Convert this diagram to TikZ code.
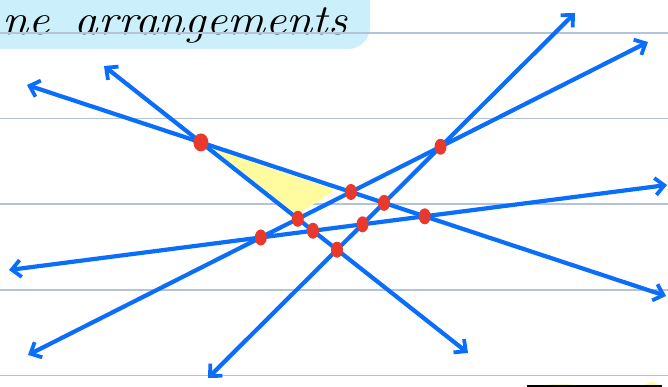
\documentclass[tikz,border=0pt]{standalone}
\usetikzlibrary{arrows.meta,shapes.geometric,calc}
\definecolor{lineblue}{HTML}{0A6EFA}
\definecolor{dotred}{HTML}{E8392C}
\definecolor{ruleblue}{HTML}{B4C3DA}
\definecolor{titlebg}{HTML}{CBEFFB}
\definecolor{hiyellow}{HTML}{FFFB9E}
\tikzset{
  ruled/.style={ruleblue, line width=1.4pt},
  arrline/.style={lineblue, line width=4.2pt, line cap=round, line join=round,
    {Straight Barb[length=9pt,width=17pt,line width=3.8pt]}-{Straight Barb[length=9pt,width=17pt,line width=3.8pt]}},
  dot/.style={ellipse, fill=dotred, minimum width=12pt, minimum height=16pt, inner sep=0pt},
  bigdot/.style={dot, minimum width=15pt, minimum height=18pt},
  title/.style={anchor=base west, inner sep=0pt, font=\fontsize{43}{46}\selectfont\itshape},
}
\begin{document}
\begin{tikzpicture}[x=1pt,y=-1pt]
\useasboundingbox (0,0) rectangle (668,387);
\clip (0,0) rectangle (668,387);
% title highlight
\fill[titlebg, rounded corners=22pt] (-40,-40) rectangle (370,49);
\node[title] (ttl) at (2,35) {\scalebox{1.1}[1]{ne\hspace{8pt} arrangements}};
% ruled lines
\foreach \yy in {33,118.5,204,290,375.5} \draw[ruled] (0,\yy) -- (668,\yy);
% endpoints
\coordinate (a1) at (27,85);   \coordinate (a2) at (666,296);
\coordinate (b1) at (104,66);  \coordinate (b2) at (468,353);
\coordinate (c1) at (28,355);  \coordinate (c2) at (648,42);
\coordinate (d1) at (208,378); \coordinate (d2) at (575,13);
\coordinate (e1) at (9,270);   \coordinate (e2) at (667,185);
% intersections
\coordinate (pAB) at (intersection of a1--a2 and b1--b2);
\coordinate (pAC) at (intersection of a1--a2 and c1--c2);
\coordinate (pAD) at (intersection of a1--a2 and d1--d2);
\coordinate (pAE) at (intersection of a1--a2 and e1--e2);
\coordinate (pBC) at (intersection of b1--b2 and c1--c2);
\coordinate (pBD) at (intersection of b1--b2 and d1--d2);
\coordinate (pBE) at (intersection of b1--b2 and e1--e2);
\coordinate (pCD) at (intersection of c1--c2 and d1--d2);
\coordinate (pCE) at (intersection of c1--c2 and e1--e2);
\coordinate (pDE) at (intersection of d1--d2 and e1--e2);
% yellow triangle
\coordinate (cen) at ($1/3*(pAB)+1/3*(pAC)+1/3*(pBC)$);
\fill[hiyellow, rounded corners=6pt]
  ($(pAB)!0.12!(cen)$) -- ($(pAC)!0.22!(cen)$) -- ($(pBC)!0.12!(cen)$) -- cycle;
% lines
\draw[arrline] (a1) -- (a2);
\draw[arrline] (b1) -- (b2);
\draw[arrline] (c1) -- (c2);
\draw[arrline] (d1) -- (d2);
\draw[arrline] (e1) -- (e2);
% dots
\node[bigdot] (nAB) at (pAB) {};
\node[dot] (nAC) at (pAC) {};
\node[dot] (nAD) at (pAD) {};
\node[dot] (nAE) at (pAE) {};
\node[dot] (nBC) at (pBC) {};
\node[dot] (nBD) at (pBD) {};
\node[dot] (nBE) at (pBE) {};
\node[dot] (nCD) at (pCD) {};
\node[dot] (nCE) at (pCE) {};
\node[dot] (nDE) at (pDE) {};
% cut-off element at bottom right
\fill[hiyellow] (560,388) ellipse (20pt and 4pt);
\fill[hiyellow] (652,388) ellipse (8pt and 6pt);
\draw[black, line width=1.3pt] (527,386) -- (662,386);
\end{tikzpicture}
\end{document}
